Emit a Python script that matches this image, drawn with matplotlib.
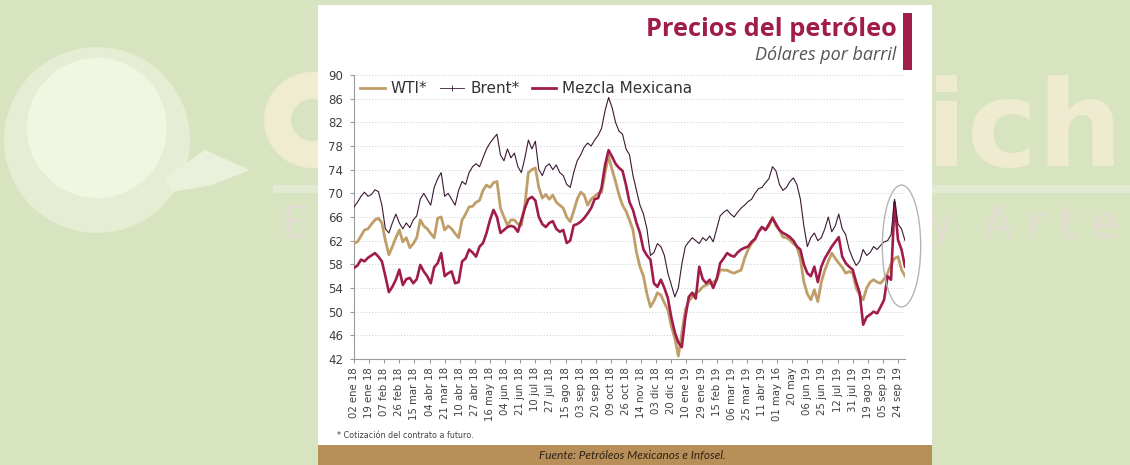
import numpy as np
import matplotlib.pyplot as plt
from matplotlib.lines import Line2D
from matplotlib.patches import Rectangle, Ellipse, Polygon, Circle, Wedge

# %% data: one sample every 3 trading sessions, 02 ene 18 .. fin sep 19 (USD/barril)
wti = [61.6, 61.8, 62.8, 63.8, 64.0, 64.8, 65.5, 65.8, 65.0, 62.0,
       59.6, 61.0, 62.5, 63.8, 61.8, 62.5, 60.8, 61.5, 62.5, 65.5,
       64.5, 64.0, 63.2, 62.5, 65.8, 66.0, 63.8, 64.5, 64.0, 63.2,
       62.5, 65.5, 66.5, 67.7, 67.8, 68.5, 68.8, 70.5, 71.4, 71.0,
       71.8, 72.0, 67.5, 66.0, 64.6, 65.5, 65.5, 64.8, 64.6, 68.0,
       73.5, 74.0, 74.3, 71.0, 69.2, 69.8, 69.0, 69.7, 68.5, 68.0,
       67.5, 66.0, 65.2, 67.0, 69.0, 70.2, 69.7, 68.0, 69.0, 69.5,
       70.0, 70.2, 73.5, 76.3, 74.0, 72.0, 69.7, 68.0, 67.0, 65.5,
       63.8, 60.0, 57.6, 56.0, 53.0, 50.8, 51.8, 53.2, 52.8, 51.5,
       50.3, 47.5, 45.5, 42.5, 46.4, 50.3, 51.8, 52.5, 53.2, 53.5,
       54.2, 54.5, 54.8, 55.0, 55.4, 57.1, 57.0, 57.0, 56.7, 56.5,
       56.8, 57.0, 59.0, 60.5, 61.5, 62.2, 63.5, 64.3, 63.8, 64.5,
       66.0, 64.5, 63.8, 62.6, 62.5, 62.1, 61.5, 61.0, 59.0, 55.0,
       53.0, 52.0, 53.7, 51.7, 55.0, 57.0, 58.5, 59.9, 59.0, 58.2,
       57.5, 56.5, 56.8, 56.5, 54.0, 52.8, 52.0, 54.0, 55.0, 55.4,
       55.0, 54.8, 55.5, 56.5, 58.0, 59.0, 59.3, 57.1, 56.0]

brent = [67.7, 68.5, 69.5, 70.2, 69.5, 69.8, 70.6, 70.3, 68.0, 64.0,
         63.3, 65.0, 66.5, 65.0, 64.0, 65.0, 64.2, 65.5, 66.2, 69.0,
         70.0, 69.0, 68.0, 71.0, 72.5, 73.5, 69.5, 70.0, 69.0, 68.0,
         70.5, 72.0, 71.5, 73.5, 74.5, 75.0, 74.5, 76.0, 77.5, 78.5,
         79.3, 80.0, 76.5, 75.5, 77.5, 76.0, 76.8, 74.5, 73.5, 76.0,
         79.0, 77.5, 78.8, 74.0, 73.0, 74.5, 75.0, 74.0, 74.8, 73.5,
         73.0, 71.5, 71.0, 73.5, 75.5, 76.5, 77.8, 78.5, 78.0, 79.0,
         79.8, 81.0, 84.0, 86.2, 84.5, 82.0, 80.5, 80.0, 77.5, 76.5,
         73.0, 70.5, 68.0, 66.5, 64.0, 59.5, 60.0, 61.5, 61.0, 59.5,
         56.5, 54.5, 52.5, 54.0, 58.0, 61.0, 61.8, 62.5, 62.0, 61.5,
         62.5, 62.0, 62.8, 61.8, 64.0, 66.2, 66.8, 67.2, 66.5, 66.0,
         66.8, 67.5, 68.0, 68.6, 69.0, 70.0, 70.8, 71.0, 71.8, 72.5,
         74.5, 73.8, 71.5, 70.5, 71.0, 72.0, 72.6, 71.5, 69.0, 64.5,
         61.0, 62.5, 63.3, 62.0, 62.5, 64.0, 66.0, 63.5, 64.5, 66.5,
         64.0, 63.0, 60.5, 59.0, 57.8, 58.5, 60.5, 59.5, 60.0, 61.0,
         60.5, 61.2, 61.8, 62.0, 63.0, 69.0, 64.8, 64.0, 62.0]

mezcla = [57.4, 57.8, 58.8, 58.5, 59.1, 59.5, 59.9, 59.3, 58.5, 56.0,
          53.3, 54.2, 55.4, 57.1, 54.5, 55.5, 55.7, 54.8, 55.5, 57.9,
          56.8, 56.0, 54.8, 57.5, 58.2, 59.9, 56.0, 56.5, 56.8, 54.8,
          55.0, 58.5, 59.0, 60.5, 60.0, 59.3, 61.0, 61.6, 63.3, 65.5,
          67.2, 66.0, 63.3, 63.8, 64.3, 64.5, 64.3, 63.5, 65.5, 67.5,
          69.0, 69.4, 68.8, 66.0, 64.8, 64.3, 65.0, 65.3, 64.0, 63.5,
          63.8, 61.6, 62.0, 64.6, 64.8, 65.2, 65.8, 66.6, 67.5, 69.0,
          69.2, 71.0, 74.8, 77.3, 76.2, 75.0, 74.3, 73.8, 71.4, 68.5,
          67.2, 65.0, 63.3, 60.5, 59.5, 58.8, 54.8, 54.2, 55.4, 54.0,
          52.3, 49.0, 46.5, 44.8, 44.0, 49.0, 52.5, 53.2, 52.2, 57.6,
          55.5, 54.8, 55.4, 54.0, 55.5, 58.2, 59.0, 59.9, 59.5, 59.3,
          60.0, 60.5, 60.8, 61.0, 61.8, 62.3, 63.5, 64.3, 63.8, 64.8,
          65.8, 64.8, 63.8, 63.3, 63.0, 62.6, 62.0, 61.0, 60.5, 58.0,
          56.5, 56.0, 57.6, 55.0, 57.6, 59.0, 60.0, 61.0, 61.8, 62.6,
          59.3, 58.2, 57.6, 57.1, 55.0, 53.2, 47.8, 49.1, 49.5, 50.0,
          49.7, 50.8, 52.0, 56.0, 55.4, 68.5, 62.1, 60.5, 57.6]

tick_labels = ["02 ene 18", "19 ene 18", "07 feb 18", "26 feb 18", "15 mar 18",
               "04 abr 18", "21 mar 18", "10 abr 18", "27 abr 18", "16 may 18",
               "04 jun 18", "21 jun 18", "10 jul 18", "27 jul 18", "15 ago 18",
               "03 sep 18", "20 sep 18", "09 oct 18", "26 oct 18", "14 nov 18",
               "03 dic 18", "20 dic 18", "10 ene 19", "29 ene 19", "15 feb 19",
               "06 mar 19", "25 mar 19", "11 abr 19", "01 may 16", "20 may",
               "06 jun 19", "25 jun 19", "12 jul 19", "31 jul 19", "19 ago 19",
               "05 sep 19", "24 sep 19"]
yticks = list(range(42, 91, 4))

# %% colours
c_wti = "#bf9e68"
c_brent = "#3c1834"
c_mezcla = "#a01c4b"
c_bg = "#d8e4c0"

W, H = 1130, 465
fx = lambda px: px / W
fy = lambda py: 1 - py / H

plt.rcParams["font.family"] = "DejaVu Sans"
fig = plt.figure(figsize=(W / 100, H / 100), dpi=100, facecolor=c_bg)

# %% background layer in pixel units: watermark, white panel, footer
bg = fig.add_axes([0, 0, 1, 1], zorder=-1)
bg.set_xlim(0, W)
bg.set_ylim(H, 0)
bg.axis("off")

bg.add_patch(Circle((97, 140), 93, facecolor="#e6edd4", edgecolor="none", zorder=1))
bg.add_patch(Circle((97, 128), 70, facecolor="#f1f6e1", edgecolor="none", zorder=1))
bg.add_patch(Polygon([(165, 178), (205, 150), (250, 170), (212, 185), (172, 192)],
                     closed=True, facecolor="#eaf0d9", edgecolor="none", zorder=1))
bg.add_patch(Wedge((312, 120), 48, 0, 360, width=27, facecolor="#efecd0",
                   edgecolor="none", zorder=1))
bg.add_patch(Rectangle((273, 185), W - 273, 8, facecolor="#e3ead4", edgecolor="none", zorder=1))
bg.text(926, 166, "ich", fontsize=86, fontweight="bold", color="#eeebd0", va="baseline", zorder=1)
bg.text(282, 238, "E", fontsize=32, color="#e3ddd1", va="baseline", zorder=1)
bg.text(928, 238, "y  A r t e", fontsize=32, color="#e3ddd1", va="baseline", zorder=1)

bg.add_patch(Rectangle((318, 5), 614, 440, facecolor="white", edgecolor="none", zorder=2))
bg.add_patch(Rectangle((318, 445), 614, 20, facecolor="#b88f59", edgecolor="none", zorder=2))
bg.add_patch(Rectangle((903, 13), 9, 57, facecolor=c_mezcla, edgecolor="none", zorder=3))

# %% texts
fig.text(fx(897), fy(29), "Precios del petróleo", ha="right", va="center",
         fontsize=18.3, fontweight="bold", color=c_mezcla, family="Open Sans")
fig.text(fx(896), fy(55), "Dólares por barril", ha="right", va="center",
         fontsize=13, style="italic", color="#555555", family="Open Sans")
fig.text(fx(337), fy(435), "* Cotización del contrato a futuro.", ha="left", va="center",
         fontsize=5.8, color="#444444")
fig.text(fx(632), fy(455), "Fuente: Petróleos Mexicanos e Infosel.", ha="center",
         va="center", fontsize=8.5, style="italic", color="#2e2214", family="Lato")

# %% chart
ax = fig.add_axes([fx(354), fy(359), fx(905) - fx(354), (359 - 75) / H])
ax.set_facecolor("none")
x = np.arange(len(wti)) * 3

ax.plot(x, wti, color=c_wti, lw=2.0, zorder=3)
ax.plot(x, mezcla, color=c_mezcla, lw=1.9, zorder=4)
ax.plot(x, brent, color=c_brent, lw=0.8, zorder=5)

ax.add_patch(Ellipse((471, 61.1), 33, 20.6, facecolor="none", edgecolor="#b5b5b5",
                     lw=1.0, clip_on=False, zorder=6))

ax.set_xlim(0, x[-1])
ax.set_ylim(42, 90)
ax.set_yticks(yticks)
ax.set_xticks(np.arange(len(tick_labels)) * 13)
ax.set_xticklabels(tick_labels, rotation=90)

ax.yaxis.grid(True, linestyle=(0, (1, 2)), color="#cccccc", lw=0.7)
ax.set_axisbelow(True)
for s in ["top", "right"]:
    ax.spines[s].set_visible(False)
for s in ["left", "bottom"]:
    ax.spines[s].set_color("#9a9a9a")
    ax.spines[s].set_linewidth(0.8)
ax.tick_params(axis="y", length=3, color="#9a9a9a", labelsize=8.5, labelcolor="#404040", pad=5)
ax.tick_params(axis="x", length=3, color="#9a9a9a", labelsize=7.3, labelcolor="#404040", pad=3)

handles = [Line2D([], [], color=c_wti, lw=2.0, label="WTI*"),
           Line2D([], [], color=c_brent, lw=0.6, marker="|", ms=4, mew=0.6, label="Brent*"),
           Line2D([], [], color=c_mezcla, lw=2.0, label="Mezcla Mexicana")]
leg = ax.legend(handles=handles, loc="upper left", bbox_to_anchor=(0.0, 1.0), ncol=3,
                frameon=False, fontsize=11, handlelength=1.6, handletextpad=0.4,
                columnspacing=0.8, borderaxespad=0)
for t in leg.get_texts():
    t.set_color("#333333")

plt.savefig("out.png", dpi=100, facecolor=c_bg)
